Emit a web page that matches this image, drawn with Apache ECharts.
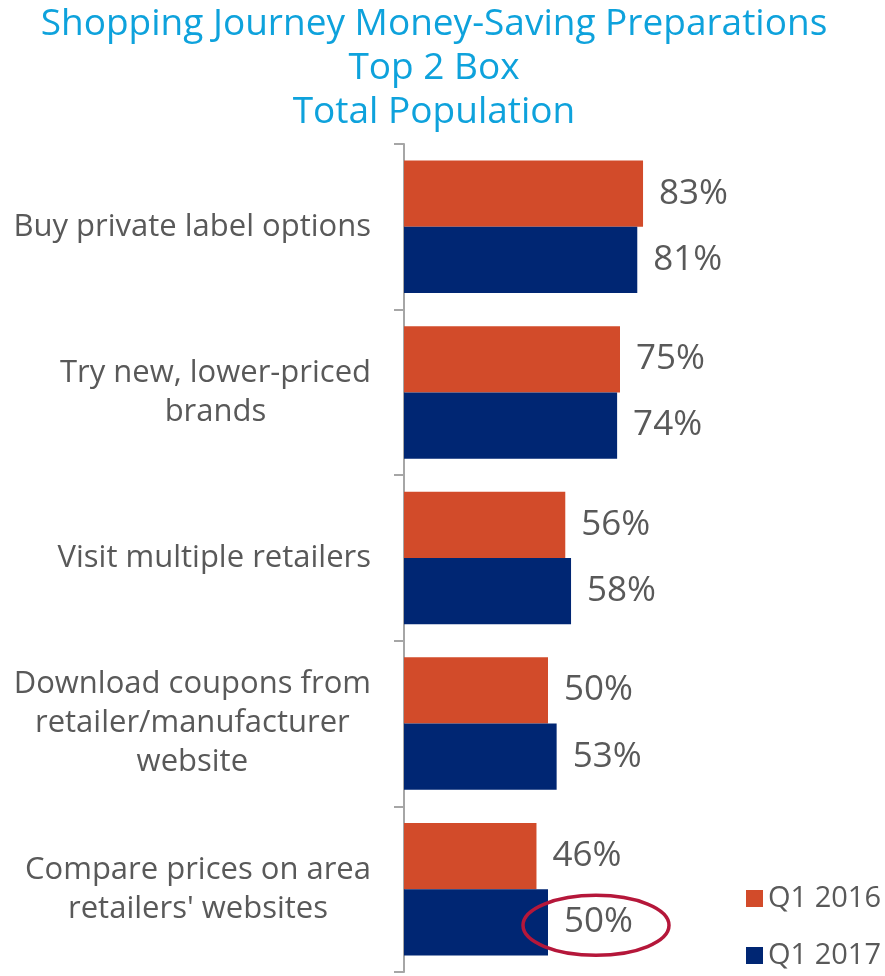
<!DOCTYPE html>
<html>
<head>
<meta charset="utf-8">
<script src="https://cdn.jsdelivr.net/npm/echarts@6/dist/echarts.min.js"></script>
<style>
html, body { margin: 0; padding: 0; background: #fff; }
#container { width: 885px; height: 976px; }
</style>
</head>
<body>
<div id="container"></div>
<script>
var categories = [
    'Buy private label options',
    'Try new, lower-priced\nbrands',
    'Visit multiple retailers',
    'Download coupons from\nretailer/manufacturer\nwebsite',
    "Compare prices on area\nretailers' websites"
];
var q12016 = [83, 75, 56, 50, 46];
var q12017 = [81, 74, 58, 53, 50];
var seriesNames = ['Q1 2016', 'Q1 2017'];

var FONT = 'Open Sans';
var GREY = '#595959';

var dom = document.getElementById('container');
var myChart = echarts.init(dom);

var barLabel = {
    show: true,
    position: 'right',
    distance: 16,
    formatter: '{c}%',
    fontFamily: FONT,
    fontSize: 35,
    color: GREY
};

option = {
    animation: false,
    title: {
        text: 'Shopping Journey Money-Saving Preparations\nTop 2 Box\nTotal Population',
        left: 429,
        top: -3,
        textAlign: 'center',
        textStyle: {
            fontFamily: FONT,
            fontWeight: 'normal',
            fontSize: 37,
            lineHeight: 44,
            color: '#0ea2dc'
        }
    },
    legend: {
        orient: 'vertical',
        left: 741,
        top: 879,
        icon: 'rect',
        itemWidth: 17,
        itemHeight: 17,
        itemGap: 28,
        data: seriesNames,
        textStyle: { fontFamily: FONT, fontSize: 29, color: GREY }
    },
    grid: { left: 404, right: 193, top: 144, bottom: 4 },
    xAxis: {
        type: 'value',
        min: 0,
        max: 100,
        show: false
    },
    yAxis: {
        type: 'category',
        inverse: true,
        data: categories,
        axisLine: { show: true, lineStyle: { color: '#a6a6a6', width: 2 } },
        axisTick: { show: true, length: 10, lineStyle: { color: '#a6a6a6', width: 2 } },
        axisLabel: {
            margin: 33,
            align: 'right',
            formatter: function (v) {
                return v.split('\n').map(function (l) { return '{c|' + l + '}'; }).join('\n');
            },
            rich: {
                c: { align: 'center', fontFamily: FONT, fontSize: 31, lineHeight: 39, color: GREY }
            }
        }
    },
    series: [
        {
            name: seriesNames[0],
            type: 'bar',
            data: q12016,
            barGap: '0%',
            barCategoryGap: '20%',
            itemStyle: { color: '#d24b2a' },
            label: barLabel
        },
        {
            name: seriesNames[1],
            type: 'bar',
            data: q12017,
            itemStyle: { color: '#002673' },
            label: barLabel
        }
    ]
};
myChart.setOption(option, true);

// red ellipse around the last Q1 2017 label
var last = categories.length - 1;
var p = myChart.convertToPixel({ seriesIndex: 1 }, [q12017[last], last]);
var band = 828 / categories.length;
myChart.setOption({
    graphic: [{
        type: 'ellipse',
        shape: { cx: p[0] + 48, cy: p[1] + band * 0.8 * 0.25 + 3, rx: 73, ry: 30 },
        style: { fill: 'none', stroke: '#b5173a', lineWidth: 3.5 },
        z: 10
    }]
});
</script>
</body>
</html>
